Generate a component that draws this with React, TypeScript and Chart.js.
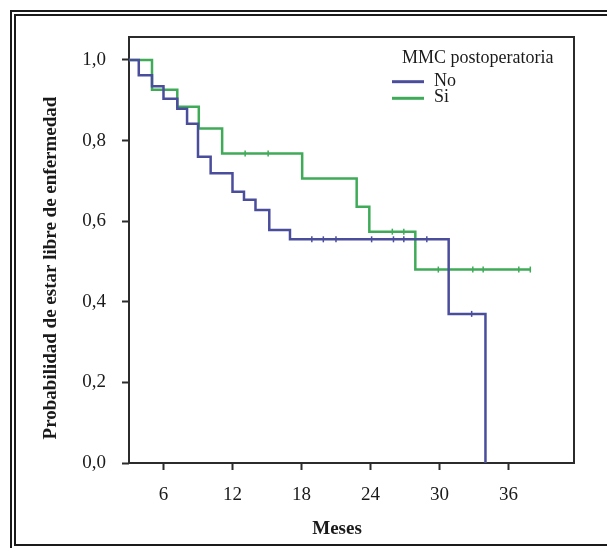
import { useEffect, useRef } from 'react';
import { Chart, registerables } from 'chart.js';

Chart.register(...registerables);

// ---- data ----
const seriesNames = ['No', 'Si'];
const legendTitle = 'MMC postoperatoria';
const xTitle = 'Meses';
const yTitle = 'Probabilidad de estar libre de enfermedad';

const xTicks = [6, 12, 18, 24, 30, 36];
const xTickLabels = ['6', '12', '18', '24', '30', '36'];
const yTicks = [0, 0.2, 0.4, 0.6, 0.8, 1.0];
const yTickLabels = ['0,0', '0,2', '0,4', '0,6', '0,8', '1,0'];

// Kaplan-Meier steps: time (months) and survival after that time
const noTimes = [3, 3.85, 5.0, 6.0, 7.2, 8.05, 9.0, 10.1, 12.0, 13.0, 14.0, 15.2, 17.0, 30.8, 34.0];
const noSurv = [1.0, 0.962, 0.935, 0.904, 0.879, 0.842, 0.76, 0.719, 0.673, 0.653, 0.628, 0.578, 0.555, 0.37, 0.0];
const siTimes = [3, 5.0, 7.2, 9.07, 11.1, 18.06, 22.8, 23.9, 27.9, 37.9];
const siSurv = [1.0, 0.926, 0.884, 0.83, 0.768, 0.706, 0.636, 0.574, 0.48, 0.48];

// censored observations (months)
const noCensored = [18.9, 19.9, 21.0, 24.1, 26.0, 26.9, 28.9, 32.8];
const siCensored = [13.1, 15.1, 25.9, 26.9, 29.9, 32.9, 33.8, 36.9, 37.9];

// ---- styles ----
const COLORS = ['#4a4d9c', '#3fab58'];
const FONT = '"Liberation Serif", "Times New Roman", serif';
const AXIS_COLOR = '#2b2b2b';

function survAt(times: number[], surv: number[], t: number) {
  let v = surv[0];
  for (let i = 0; i < times.length; i++) if (times[i] <= t) v = surv[i];
  return v;
}

const framePlugin = {
  id: 'frame',
  beforeDraw(chart: any) {
    const { ctx, width, height } = chart;
    ctx.save();
    ctx.fillStyle = '#ffffff';
    ctx.fillRect(0, 0, width, height);
    ctx.strokeStyle = '#1a1a1a';
    ctx.lineWidth = 2;
    ctx.strokeRect(11, 11, width + 20, height + 20);
    ctx.strokeRect(15, 15, width + 20, 530);
    ctx.restore();
  },
  beforeDatasetsDraw(chart: any) {
    const { ctx, chartArea: a } = chart;
    ctx.save();
    ctx.strokeStyle = AXIS_COLOR;
    ctx.lineWidth = 2;
    ctx.strokeRect(a.left, a.top, a.right - a.left, a.bottom - a.top);
    ctx.restore();
  },
  afterDraw(chart: any) {
    const { ctx } = chart;
    ctx.save();
    // axis titles
    ctx.fillStyle = '#1a1a1a';
    ctx.font = `bold 19px ${FONT}`;
    ctx.textAlign = 'center';
    ctx.textBaseline = 'alphabetic';
    ctx.fillText(xTitle, 337, 534);
    ctx.save();
    ctx.translate(56, 268);
    ctx.rotate(-Math.PI / 2);
    ctx.fillText(yTitle, 0, 0);
    ctx.restore();
    // legend
    ctx.font = `18px ${FONT}`;
    ctx.textAlign = 'left';
    ctx.fillText(legendTitle, 402, 63);
    seriesNames.forEach((name, i) => {
      const y = 81.7 + i * 16.6;
      ctx.strokeStyle = COLORS[i];
      ctx.lineWidth = 3;
      ctx.beginPath();
      ctx.moveTo(392, y);
      ctx.lineTo(424, y);
      ctx.stroke();
      ctx.fillStyle = '#1a1a1a';
      ctx.fillText(name, 434, y + 4);
    });
    ctx.restore();
  },
};

export default function App() {
  const ref = useRef<HTMLCanvasElement | null>(null);
  useEffect(() => {
    if (!ref.current) return;
    const lines = [
      { times: noTimes, surv: noSurv, cens: noCensored },
      { times: siTimes, surv: siSurv, cens: siCensored },
    ];
    const datasets: any[] = [];
    lines.forEach((l, i) => {
      datasets.push({
        label: seriesNames[i],
        type: 'line',
        data: l.times.map((t, k) => ({ x: t, y: l.surv[k] })),
        stepped: 'before',
        borderColor: COLORS[i],
        borderWidth: 2.5,
        pointRadius: 0,
        fill: false,
      });
      datasets.push({
        label: seriesNames[i] + ' censurado',
        type: 'scatter',
        data: l.cens.map((t) => ({ x: t, y: survAt(l.times, l.surv, t) })),
        pointStyle: 'line',
        rotation: 90,
        pointRadius: 3,
        borderColor: COLORS[i],
        borderWidth: 1.5,
        showLine: false,
      });
    });
    const chart = new Chart(ref.current, {
      type: 'line',
      data: { datasets },
      options: {
        animation: false,
        responsive: false,
        events: [],
        layout: { padding: { left: 29, top: 37, right: 33, bottom: 0 } },
        plugins: { legend: { display: false }, tooltip: { enabled: false }, title: { display: false } },
        scales: {
          x: {
            type: 'linear',
            min: 3,
            max: 41.7,
            afterFit: (s: any) => { s.height = 85; },
            afterBuildTicks: (s: any) => { s.ticks = xTicks.map((v) => ({ value: v })); },
            ticks: {
              callback: (v: any) => xTickLabels[xTicks.indexOf(Number(v))] ?? '',
              font: { family: FONT, size: 19 },
              color: '#1a1a1a',
              padding: 14,
              maxRotation: 0,
              autoSkip: false,
            },
            grid: { display: true, drawOnChartArea: false, drawTicks: true, tickLength: 7, tickWidth: 2, tickColor: AXIS_COLOR },
            border: { display: false },
          },
          y: {
            type: 'linear',
            min: 0,
            max: 1.057,
            afterFit: (s: any) => { s.width = 100; },
            afterBuildTicks: (s: any) => { s.ticks = yTicks.map((v) => ({ value: v })); },
            ticks: {
              callback: (v: any) => {
                const k = yTicks.findIndex((t) => Math.abs(t - Number(v)) < 1e-6);
                return k >= 0 ? yTickLabels[k] : '';
              },
              font: { family: FONT, size: 19 },
              color: '#1a1a1a',
              padding: 16,
              autoSkip: false,
            },
            grid: { display: true, drawOnChartArea: false, drawTicks: true, tickLength: 7, tickWidth: 2, tickColor: AXIS_COLOR },
            border: { display: false },
          },
        },
      },
      plugins: [framePlugin],
    } as any);
    return () => chart.destroy();
  }, []);
  return (
    <div style={{ position: 'absolute', left: 0, top: 0, width: 607, height: 548 }}>
      <canvas ref={ref} width={607} height={548} style={{ display: 'block' }} />
    </div>
  );
}
